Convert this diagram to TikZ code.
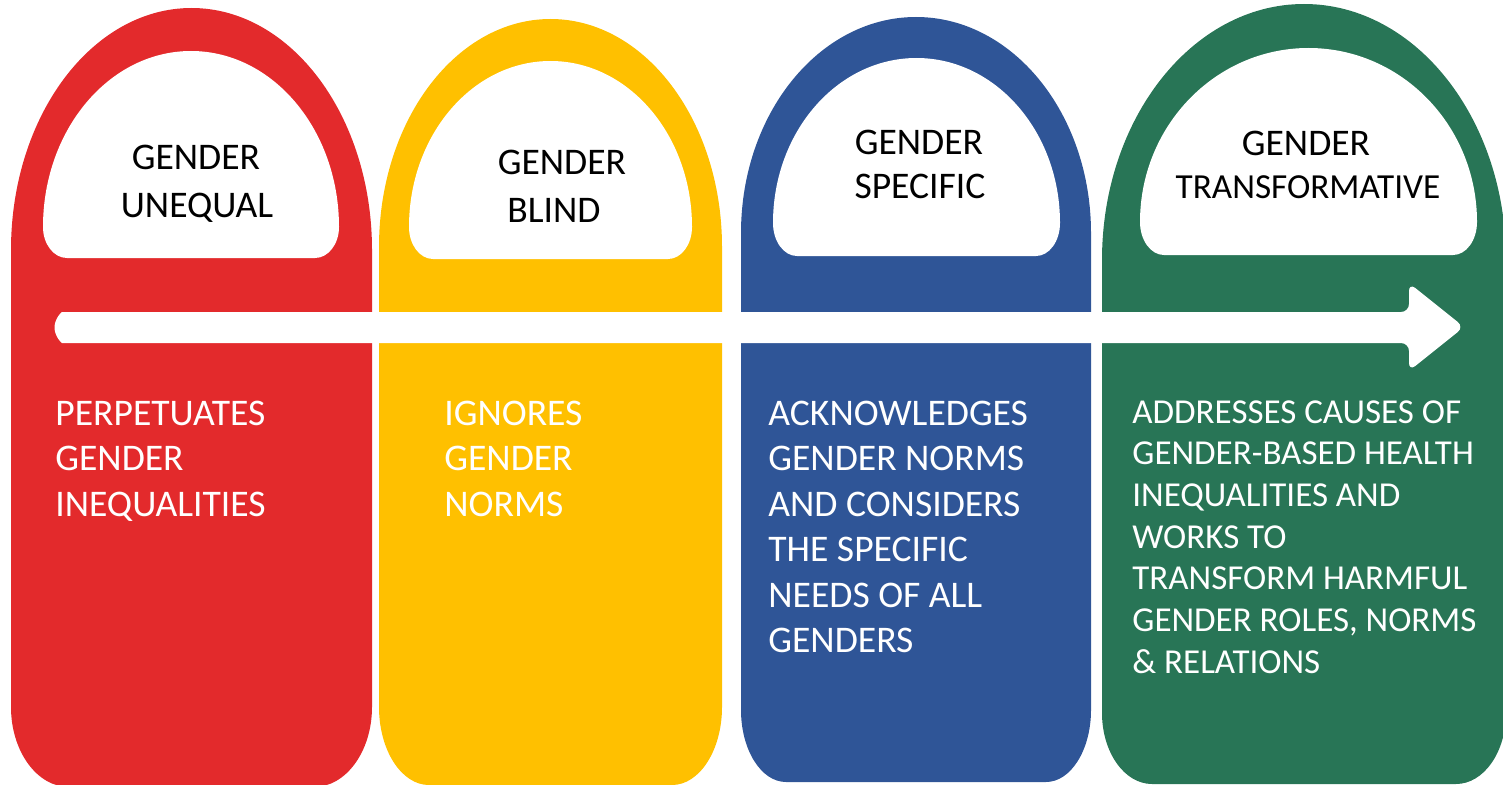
\documentclass[tikz,border=0pt]{standalone}
\usepackage{fontspec}
\setmainfont{Carlito}
\definecolor{cRed}{HTML}{E32A2C}
\definecolor{cYellow}{HTML}{FFC000}
\definecolor{cBlue}{HTML}{2F5597}
\definecolor{cGreen}{HTML}{287556}
% #1 left, #2 right, #3 top Y, #4 arch base Y, #5 end of straight sides Y, #6 bottom Y, #7 corner x radius, #8 colour
\newcommand\archedshape[8]{%
  \fill[#8] (#1,#4) arc[start angle=180,end angle=0,x radius={(#2-#1)/2},y radius={#3-#4}]
    -- (#2,#5) arc[start angle=0,end angle=-90,x radius=#7,y radius={#5-#6}]
    -- ({#1+#7},#6) arc[start angle=270,end angle=180,x radius=#7,y radius={#5-#6}] -- cycle;}
\begin{document}
\begin{tikzpicture}[x=0.5pt,y=0.5pt,
  title/.style={anchor=base,inner sep=0pt,text=black,font=\fontsize{18.8}{22}\selectfont},
  titlesmall/.style={title,font=\fontsize{17.6}{22}\selectfont},
  body/.style={anchor=north west,inner sep=0pt,text=white,align=left,font=\fontsize{18.8}{22.75}\selectfont},
  bodysmall/.style={body,font=\fontsize{17.5}{20.85}\selectfont}]
\useasboundingbox (0,0) rectangle (1503,784);
\clip (0,0) rectangle (1503,784);
% pills
\archedshape{11}{372}{776}{534}{77}{-3}{58}{cRed}
\archedshape{379}{722}{765}{537}{77}{-1}{50}{cYellow}
\archedshape{741}{1091}{767}{551}{74}{2}{45}{cBlue}
\archedshape{1102}{1506}{780}{524}{71}{0}{50}{cGreen}
% title domes
\archedshape{43}{339}{733}{557}{557}{526}{24}{white}
\archedshape{409}{692}{723}{557}{557}{525}{24}{white}
\archedshape{773}{1060}{726}{561}{561}{528}{24}{white}
\archedshape{1140}{1477}{736}{562}{562}{529}{24}{white}
% arrow
\fill[white,rounded corners=4] (70,441) arc[start angle=270,end angle=90,radius=15.5]
  -- (1409,472) -- (1409,501) -- (1464,457) -- (1409,413) -- (1409,441) -- cycle;
% titles
\node[title] (t1a) at (196,615) {GENDER};
\node[title] (t1b) at (197,567) {UNEQUAL};
\node[title] (t2a) at (562,610) {GENDER};
\node[title] (t2b) at (554,562) {BLIND};
\node[title] (t3a) at (919,630) {GENDER};
\node[title] (t3b) at (920,586) {SPECIFIC};
\node[title] (t4a) at (1306,629) {GENDER};
\node[titlesmall] (t4b) at (1308,586) {TRANSFORMATIVE};
% descriptions
\node[body] (d1) at (55,383.5) {PERPETUATES\\GENDER\\INEQUALITIES};
\node[body] (d2) at (444,383.5) {IGNORES\\GENDER\\NORMS};
\node[body] (d3) at (768,383.5) {ACKNOWLEDGES\\GENDER NORMS\\AND CONSIDERS\\THE SPECIFIC\\NEEDS OF ALL\\GENDERS};
\node[bodysmall] (d4) at (1132,384) {ADDRESSES CAUSES OF\\GENDER-BASED HEALTH\\INEQUALITIES AND\\WORKS TO\\TRANSFORM HARMFUL\\GENDER ROLES, NORMS\\\& RELATIONS};
\end{tikzpicture}
\end{document}
